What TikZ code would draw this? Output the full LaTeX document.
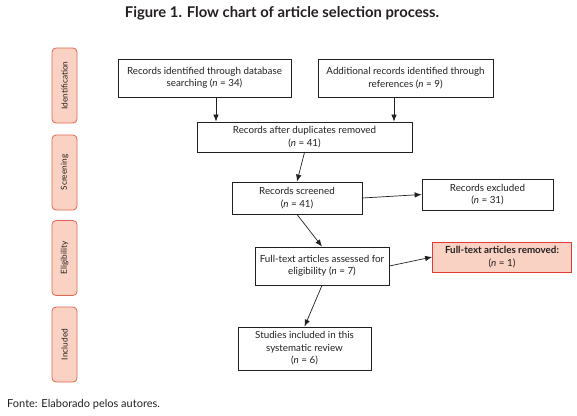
\documentclass[tikz,border=0pt]{standalone}
\usepackage{fontspec}
\setmainfont{Lato}
\usetikzlibrary{arrows.meta}
\definecolor{salmon}{HTML}{F9D2C4}
\definecolor{stagered}{HTML}{E4664F}
\definecolor{removedred}{HTML}{E53935}
\definecolor{ink}{HTML}{231F20}
\begin{document}
\begin{tikzpicture}[x=1pt,y=-1pt,
        box/.style={draw=ink,line width=0.8pt,align=center,inner sep=2pt,
            font=\fontsize{9.8}{12.5}\selectfont,text=ink},
        stage/.style={draw=stagered,fill=salmon,rounded corners=4pt,line width=0.8pt,
            rotate=90,minimum width=75pt,minimum height=25pt,inner sep=0pt,
            font=\fontsize{8.3}{9}\selectfont,text=ink},
        arr/.style={-{Latex[length=7pt,width=5.5pt]},draw=ink,line width=0.7pt}]
\useasboundingbox (0,0) rectangle (577,415);

\node[font=\bfseries\fontsize{14.8}{17}\selectfont,text=ink] (title) at (282,13)
    {Figure 1. Flow chart of article selection process.};

\node[stage] (ident) at (64.5,85.5) {Identification};
\node[stage] (screen) at (64.5,172.5) {Screening};
\node[stage] (elig) at (64.5,258) {Eligibility};
\node[stage] (incl) at (64.5,344.5) {Included};

\node[box,minimum width=173pt,minimum height=38pt] (database) at (204.5,78)
    {Records identified through database\\searching (\textit{n} = 34)};
\node[box,minimum width=175pt,minimum height=38pt] (additional) at (405.5,78)
    {Additional records identified through\\references (\textit{n} = 9)};
\node[box,minimum width=215pt,minimum height=30pt] (duplicates) at (304.5,137)
    {Records after duplicates removed\\(\textit{n} = 41)};
\node[box,minimum width=130pt,minimum height=32pt] (screened) at (297,198)
    {Records screened\\(\textit{n} = 41)};
\node[box,minimum width=131pt,minimum height=31pt] (excluded) at (487.5,194.5)
    {Records excluded\\(\textit{n} = 31)};
\node[box,minimum width=134pt,minimum height=38pt] (fulltext) at (322,266)
    {Full-text articles assessed for\\eligibility (\textit{n} = 7)};
\node[box,draw=removedred,fill=salmon,minimum width=139pt,minimum height=30pt] (removed) at (502,257)
    {\textbf{Full-text articles removed:}\\(\textit{n} = 1)};
\node[box,minimum width=133pt,minimum height=43pt] (included) at (304.5,348.5)
    {Studies included in this\\systematic review\\(\textit{n} = 6)};

\node[anchor=west,font=\fontsize{11}{12}\selectfont,text=ink,inner sep=0pt] (source) at (7,404)
    {Fonte: Elaborado pelos autores.};

\draw[arr] ([xshift=11.5pt]database.south) -- ([xshift=11.5pt]database.south |- duplicates.north);
\draw[arr] ([xshift=-11.5pt]additional.south) -- ([xshift=-11.5pt]additional.south |- duplicates.north);
\draw[arr] (duplicates.south) -- (screened.north);
\draw[arr] (screened.east) -- (excluded.west);
\draw[arr] (screened.south) -- (fulltext.north);
\draw[arr] (fulltext.east) -- (removed.west);
\draw[arr] (fulltext.south) -- (included.north);
\end{tikzpicture}
\end{document}
